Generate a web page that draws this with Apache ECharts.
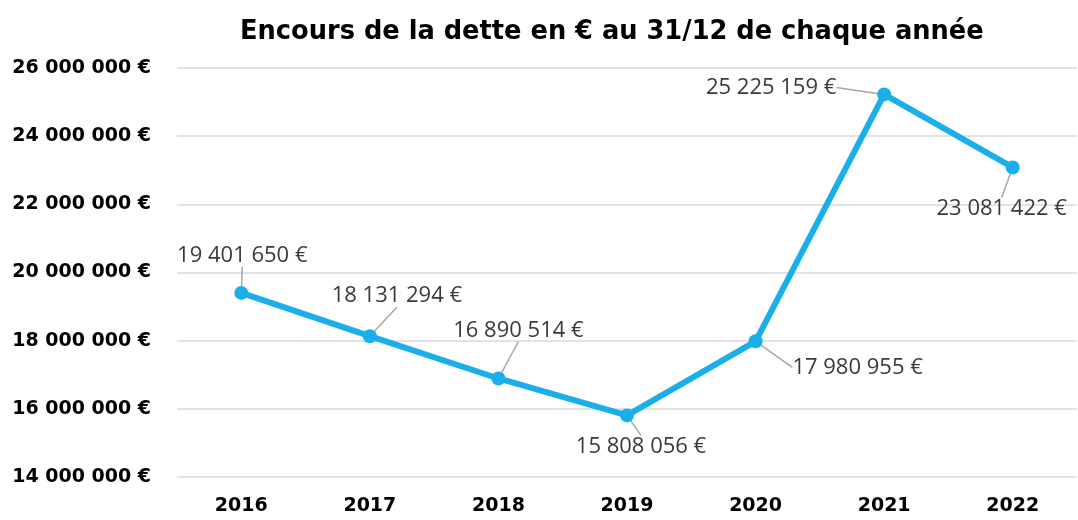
<!DOCTYPE html>
<html>
<head>
<meta charset="utf-8" />
<title>Encours de la dette</title>
<script src="https://cdn.jsdelivr.net/npm/echarts@6/dist/echarts.min.js"></script>
<style>
  html, body { margin: 0; padding: 0; background: #fff; }
  #main { width: 1078px; height: 520px; }
</style>
</head>
<body>
<div id="main"></div>
<script type="text/javascript">
// données
var annees = ['2016', '2017', '2018', '2019', '2020', '2021', '2022'];
var encours = [19401650, 18131294, 16890514, 15808056, 17980955, 25225159, 23081422];
var yTicks = { min: 14000000, max: 26000000, step: 2000000 };

// décalage des étiquettes par rapport au point (en px)
var labelOffsets = [[1, -37], [27, -40], [20, -48], [14, 31], [102, 26], [-113, -7], [-11, 41]];

function euro(v) {
    return String(Math.round(v)).replace(/\B(?=(\d{3})+(?!\d))/g, ' ') + ' €';
}

var myChart = echarts.init(document.getElementById('main'));

var option = {
    animation: false,
    title: {
        text: 'Encours de la dette en € au 31/12 de chaque année',
        left: 235,
        top: 14,
        textStyle: {
            fontFamily: 'DejaVu Sans',
            fontWeight: 'bold',
            fontSize: 25.7,
            color: '#000'
        }
    },
    grid: {
        left: 177,
        right: 1,
        top: 68,
        bottom: 43
    },
    xAxis: {
        type: 'category',
        data: annees,
        boundaryGap: true,
        axisLine: { show: false },
        axisTick: { show: false },
        axisLabel: {
            margin: 20,
            fontFamily: 'DejaVu Sans',
            fontWeight: 'bold',
            fontSize: 19,
            color: '#000'
        }
    },
    yAxis: {
        type: 'value',
        min: yTicks.min,
        max: yTicks.max,
        interval: yTicks.step,
        axisLine: { show: false },
        axisTick: { show: false },
        splitLine: { lineStyle: { color: '#d9d9d9', width: 1.5 } },
        axisLabel: {
            margin: 26,
            fontFamily: 'DejaVu Sans',
            fontWeight: 'bold',
            fontSize: 19,
            color: '#000',
            formatter: euro
        }
    },
    series: [{
        type: 'line',
        data: encours,
        symbol: 'circle',
        symbolSize: 14,
        lineStyle: { color: '#1aafe8', width: 6 },
        itemStyle: { color: '#1aafe8' },
        label: {
            show: true,
            position: 'inside',
            fontFamily: 'Open Sans',
            fontSize: 22,
            color: '#3a3a3a',
            formatter: function (p) { return euro(p.value); }
        },
        labelLine: {
            show: true,
            lineStyle: { color: '#a6a6a6', width: 1.5 }
        },
        labelLayout: function (params) {
            var o = labelOffsets[params.dataIndex];
            return { dx: o[0], dy: o[1] };
        }
    }]
};
myChart.setOption(option);
</script>
</body>
</html>
